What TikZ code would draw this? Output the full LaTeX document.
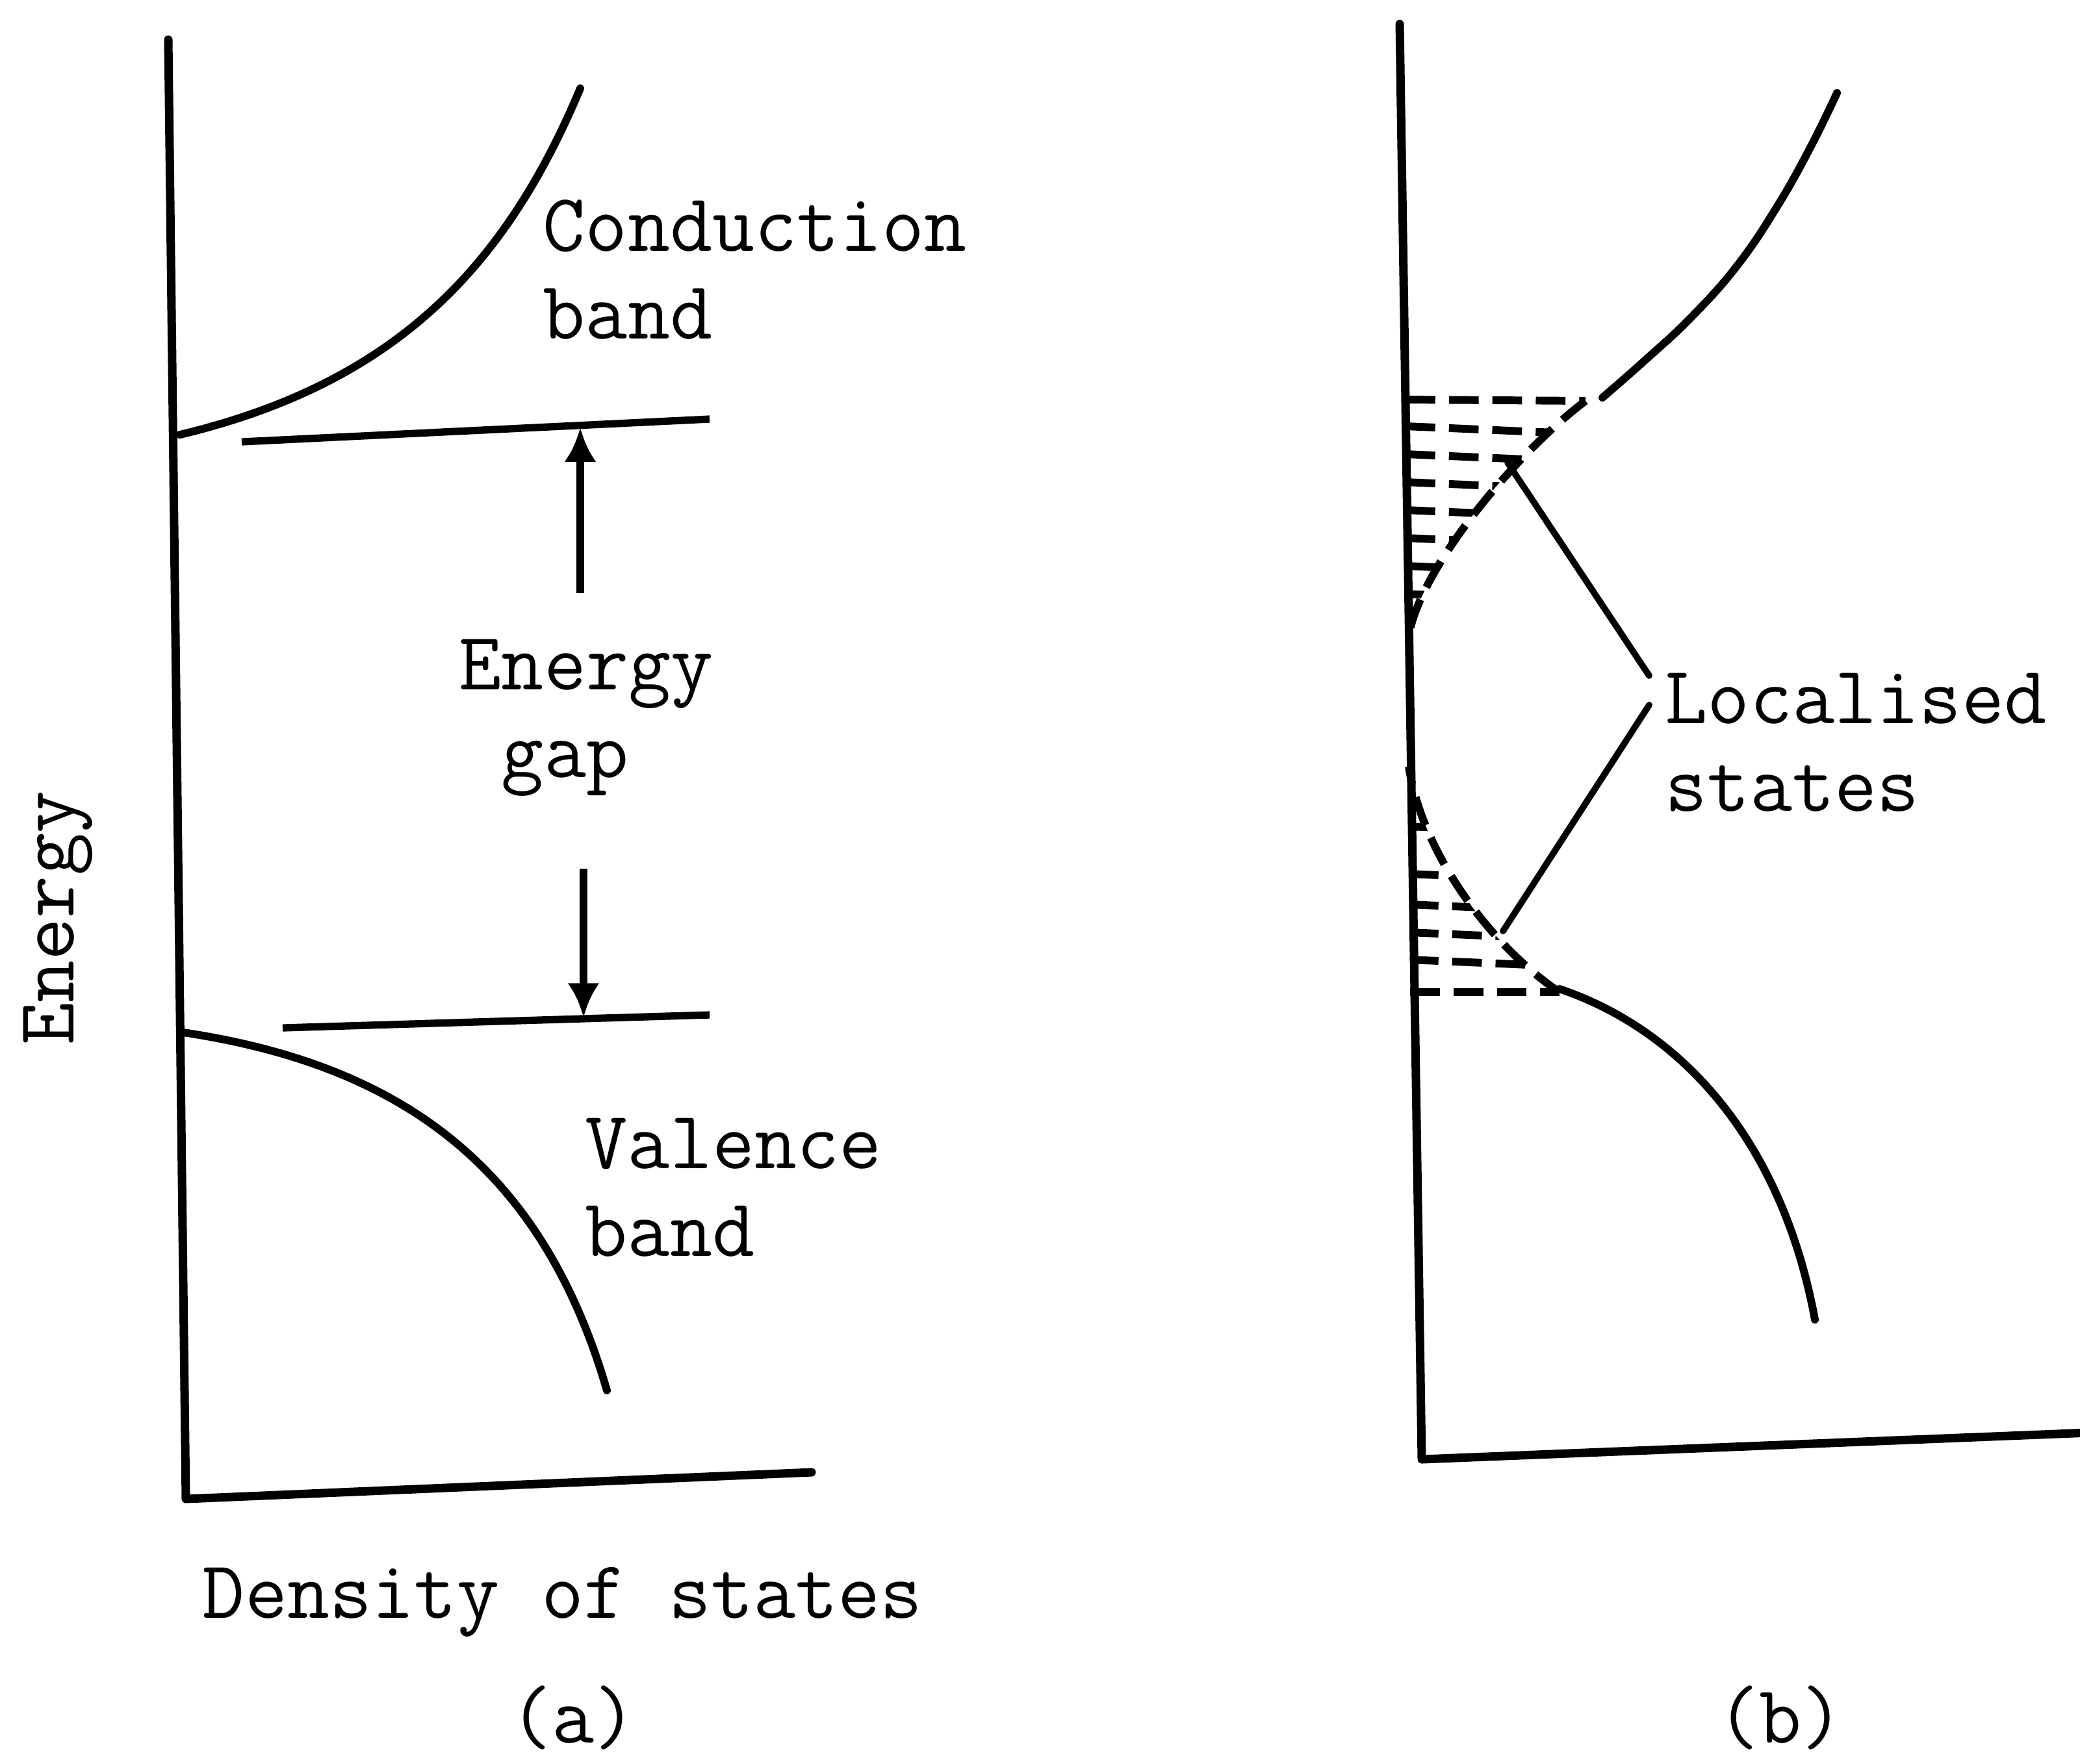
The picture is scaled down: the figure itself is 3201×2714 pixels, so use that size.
\documentclass[tikz,border=0pt]{standalone}
\usepackage{fontspec}
\usetikzlibrary{arrows.meta,positioning}

\begin{document}
\begin{tikzpicture}[x=0.01cm,y=-0.01cm,
    axl/.style={line width=3.7pt,line cap=round,line join=round},
    band/.style={line width=3.4pt,line cap=round},
    lvl/.style={line width=3.2pt},
    ar/.style={-{Latex[length=15pt,width=14pt]},line width=3.4pt},
    lead/.style={line width=2.8pt,line cap=round},
    dsh/.style={line width=3.4pt,dash pattern=on 13pt off 6pt},
    lbl/.style={font=\fontsize{36}{38.4}\selectfont\ttfamily,inner sep=0pt,align=left}]
  \useasboundingbox (0,0) rectangle (3201,2714);

  % (a) crystalline
  \coordinate (oa) at (286,2307);
  \coordinate (ya) at (259,61);
  \coordinate (xa) at (1249,2266);
  \draw[axl] (ya) -- (oa) -- (xa);
  \draw[band] (277,669) .. controls (607,590) and (777,413) .. (893,136);
  \draw[band] (282,1589) .. controls (622,1640) and (835,1800) .. (934,2140);
  \coordinate (ec) at (372,680);
  \coordinate (ec2) at (1092,645);
  \coordinate (ev) at (435,1582);
  \coordinate (ev2) at (1092,1562);
  \draw[lvl] (ec) -- (ec2);
  \draw[lvl] (ev) -- (ev2);

  \node[lbl,anchor=west] (cb) at (835,415) {Conduction\\band};
  \node[lbl,anchor=west] (gap) at (706,1105) {Energy\\\phantom{E}gap};
  \node[lbl,anchor=west] (vb) at (900,1828) {Valence\\band};
  \coordinate (gu) at (893,913);
  \coordinate (gt) at (893,658);
  \coordinate (gd) at (898,1337);
  \coordinate (gb) at (898,1566);
  \draw[ar] (gu) -- (gt);
  \draw[ar] (gd) -- (gb);

  \node[lbl,rotate=90,anchor=base] (en) at (113,1413) {Energy};
  \node[lbl,anchor=base] (dos) at (866,2490) {Density of states};
  \node[lbl,anchor=base] (pa) at (882,2682) {(a)};

  % (b) amorphous
  \coordinate (ob) at (2188,2246);
  \coordinate (yb) at (2154,37);
  \coordinate (xb) at (3215,2205);
  \draw[axl] (yb) -- (ob) -- (xb);
  \draw[band] plot[smooth,tension=0.7] coordinates
    {(2466,612) (2531,555) (2603,488) (2674,408) (2736,316) (2787,225) (2827,143)};
  \draw[band] (2400,1522) .. controls (2600,1590) and (2745,1770) .. (2793,2031);

  % tail states, hatched
  \begin{scope}
    \clip (2163,617) -- (2437,617) .. controls (2330,700) and (2180,880) .. (2167,985) -- cycle;
    \foreach \y in {662,705,748,791,834,877,920}
      \draw[dsh] (2163,\y-6) -- (2440,\y+6);
  \end{scope}
  \draw[dsh] (2163,615) -- (2440,617);
  \draw[dsh] (2440,617) .. controls (2330,700) and (2180,880) .. (2167,985);

  \begin{scope}
    \clip (2168,1180) -- (2170,1527) -- (2400,1527) .. controls (2300,1460) and (2190,1320) .. (2168,1180) -- cycle;
    \foreach \y in {1277,1350,1397,1440,1482}
      \draw[dsh] (2168,\y-5) -- (2400,\y+5);
  \end{scope}
  \draw[dsh] (2170,1527) -- (2400,1527);
  \draw[dsh] (2400,1527) .. controls (2300,1460) and (2190,1320) .. (2168,1180);

  \node[lbl,anchor=west] (loc) at (2562,1143) {Localised\\states};
  \coordinate (tA) at (2320,712);
  \coordinate (tB) at (2313,1433);
  \coordinate (lA) at (2538,1040);
  \coordinate (lB) at (2538,1085);
  \draw[lead] (tA) -- (lA);
  \draw[lead] (tB) -- (lB);

  \node[lbl,anchor=base] (pb) at (2740,2682) {(b)};
\end{tikzpicture}
\end{document}
